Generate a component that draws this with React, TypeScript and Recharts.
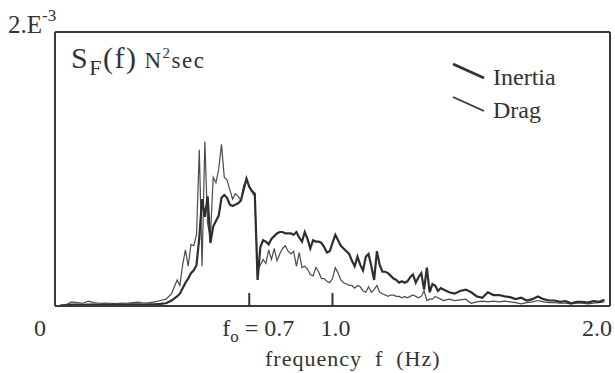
import { LineChart, Line, XAxis, YAxis, Legend } from "recharts"

// spectral density S_F(f), values in units of 1e-3 N^2 sec
const freq = [
  0.02, 0.04, 0.06, 0.08, 0.1, 0.12, 0.14, 0.16, 0.18, 0.2, 0.22, 0.24, 0.26, 0.28, 0.3, 0.32, 0.34, 0.36, 0.38, 0.4, 0.42,
  0.44, 0.45, 0.46, 0.47, 0.48, 0.49, 0.5, 0.51, 0.52, 0.53, 0.54, 0.55, 0.56, 0.57, 0.58, 0.59, 0.6, 0.61, 0.62, 0.63,
  0.64, 0.65, 0.66, 0.67, 0.68, 0.69, 0.7, 0.71, 0.72, 0.73, 0.74, 0.75, 0.76, 0.77, 0.78, 0.79, 0.8,
  0.81, 0.82, 0.83, 0.84, 0.85, 0.86, 0.87, 0.88, 0.89, 0.9, 0.91, 0.92, 0.93, 0.94, 0.95, 0.96, 0.97, 0.98, 0.99, 1.0,
  1.01, 1.02, 1.03, 1.04, 1.05, 1.06, 1.07, 1.08, 1.09, 1.1, 1.11, 1.12, 1.13, 1.14, 1.15, 1.16, 1.17, 1.18, 1.19, 1.2,
  1.21, 1.22, 1.23, 1.24, 1.25, 1.26, 1.27, 1.28, 1.29, 1.3, 1.31, 1.32, 1.33, 1.34, 1.35, 1.36, 1.37, 1.38, 1.39, 1.4,
  1.42, 1.44, 1.46, 1.48, 1.5, 1.52, 1.54, 1.56, 1.58, 1.6, 1.62, 1.64, 1.66, 1.68, 1.7, 1.72, 1.74, 1.76, 1.78, 1.8,
  1.82, 1.84, 1.86, 1.88, 1.9, 1.92, 1.94, 1.96, 1.98,
]

const inertia = [
  0.005, 0.005, 0.01, 0.01, 0.008, 0.01, 0.01, 0.008, 0.01, 0.01, 0.008, 0.01, 0.01, 0.012, 0.012, 0.01, 0.012, 0.012, 0.015, 0.02, 0.04,
  0.07, 0.09, 0.13, 0.17, 0.2, 0.24, 0.26, 0.3, 0.5, 0.78, 0.65, 0.8, 0.46, 0.58, 0.62, 0.66, 0.79, 0.81, 0.79, 0.74,
  0.73, 0.74, 0.75, 0.77, 0.85, 0.93, 0.87, 0.84, 0.82, 0.19, 0.43, 0.48, 0.47, 0.45, 0.49, 0.51, 0.53,
  0.54, 0.54, 0.53, 0.53, 0.53, 0.52, 0.54, 0.5, 0.47, 0.54, 0.49, 0.42, 0.48, 0.47, 0.47, 0.46, 0.43, 0.39, 0.4, 0.46,
  0.52, 0.48, 0.44, 0.42, 0.4, 0.38, 0.33, 0.29, 0.36, 0.3, 0.26, 0.36, 0.38, 0.29, 0.19, 0.4, 0.3, 0.25, 0.25, 0.24,
  0.22, 0.2, 0.19, 0.17, 0.18, 0.17, 0.18, 0.21, 0.23, 0.17, 0.21, 0.24, 0.12, 0.28, 0.1, 0.16, 0.15, 0.11, 0.13, 0.12,
  0.1, 0.09, 0.11, 0.12, 0.1, 0.07, 0.06, 0.1, 0.08, 0.08, 0.07, 0.065, 0.05, 0.06, 0.04, 0.05, 0.07, 0.05, 0.04, 0.04,
  0.03, 0.035, 0.02, 0.03, 0.03, 0.025, 0.035, 0.03, 0.045,
]

const drag = [
  0.005, 0.01, 0.03, 0.025, 0.02, 0.035, 0.025, 0.02, 0.022, 0.02, 0.018, 0.022, 0.02, 0.025, 0.028, 0.022, 0.025, 0.03, 0.04, 0.05, 0.09,
  0.19, 0.15, 0.3, 0.41, 0.29, 0.45, 0.44, 0.52, 1.14, 0.29, 1.2, 0.6, 0.5, 0.94, 0.9, 1.0, 1.18, 0.94, 0.92, 0.85,
  0.78, 0.82, 0.8, 0.77, 0.88, 0.92, 0.87, 0.83, 0.8, 0.26, 0.3, 0.34, 0.31, 0.41, 0.34, 0.42, 0.33,
  0.38, 0.42, 0.44, 0.4, 0.38, 0.4, 0.29, 0.39, 0.28, 0.29, 0.27, 0.23, 0.22, 0.28, 0.25, 0.2, 0.2, 0.18, 0.17, 0.2,
  0.28, 0.24, 0.19, 0.17, 0.16, 0.15, 0.15, 0.13, 0.15, 0.14, 0.11, 0.1, 0.14, 0.1, 0.12, 0.15, 0.1, 0.09, 0.08, 0.07,
  0.08, 0.08, 0.07, 0.07, 0.06, 0.07, 0.06, 0.07, 0.08, 0.07, 0.06, 0.07, 0.11, 0.04, 0.05, 0.05, 0.07, 0.06, 0.05, 0.04,
  0.05, 0.04, 0.045, 0.05, 0.02, 0.03, 0.035, 0.03, 0.035, 0.03, 0.035, 0.03, 0.025, 0.015, 0.025, 0.03, 0.04, 0.03, 0.025, 0.025,
  0.02, 0.02, 0.015, 0.02, 0.02, 0.015, 0.02, 0.025, 0.03,
]

const xTicks = [0, 0.7, 1.0, 2.0]
const keyOrder = ["Inertia", "Drag"]

const data = freq.map((f, i) => ({ f, inertia: inertia[i], drag: drag[i] }))

const INK = "#333"
const SERIF = '"Liberation Serif", "DejaVu Serif", serif'

function FreqTick({ x, y, payload }: any) {
  const v = payload.value
  const txt = { fill: INK, fontSize: 24, fontFamily: SERIF }
  if (v === 0) {
    return <text x={x - 15} y={y + 30} textAnchor="middle" {...txt}>0</text>
  }
  if (v === 2) {
    return <text x={x - 13} y={y + 30} textAnchor="middle" {...txt}>2.0</text>
  }
  const mark = <line x1={x} x2={x} y1={y} y2={y - 13} stroke={INK} strokeWidth={2} />
  if (v === 0.7) {
    return (
      <g>
        {mark}
        <text x={x - 27} y={y + 30} {...txt}>
          f<tspan fontSize={17} dy={6}>o</tspan>
          <tspan dy={-6}> = 0.7</tspan>
        </text>
      </g>
    )
  }
  return (
    <g>
      {mark}
      <text x={x + 3} y={y + 30} textAnchor="middle" {...txt}>1.0</text>
    </g>
  )
}

function SeriesKey({ payload }: any) {
  const items = [...(payload || [])].sort(
    (a: any, b: any) => keyOrder.indexOf(a.value) - keyOrder.indexOf(b.value)
  )
  return (
    <svg width={120} height={64}>
      {items.map((p: any, i: number) => (
        <g key={p.value} transform={`translate(0, ${i * 33})`}>
          <line x1={3} y1={4} x2={34} y2={18} stroke={INK} strokeWidth={p.value === "Inertia" ? 3 : 1.8} />
          <text x={43} y={25} fill={INK} fontSize={24} fontFamily={SERIF}>
            {p.value}
          </text>
        </g>
      ))}
    </svg>
  )
}

export default function App() {
  const frame = { stroke: "#3a3a3a", strokeWidth: 2 }
  return (
    <div style={{ position: "absolute", left: 0, top: 0, width: 615, height: 373, background: "#fff" }}>
      <LineChart width={615} height={373} data={data} margin={{ top: 31, right: 4, bottom: 66, left: 54 }}>
        <XAxis
          dataKey="f"
          type="number"
          domain={[0, 2]}
          ticks={xTicks}
          tick={<FreqTick />}
          tickLine={false}
          tickSize={0}
          tickMargin={0}
          height={1}
          axisLine={frame}
        />
        <XAxis xAxisId="top" orientation="top" type="number" domain={[0, 2]} tick={false} tickLine={false} height={1} axisLine={frame} />
        <YAxis type="number" domain={[0, 2]} tick={false} tickLine={false} width={1} axisLine={frame} />
        <YAxis yAxisId="right" orientation="right" type="number" domain={[0, 2]} tick={false} tickLine={false} width={1} axisLine={frame} />
        <Legend
          layout="vertical"
          align="center"
          verticalAlign="middle"
          content={<SeriesKey />}
          wrapperStyle={{ left: 450, top: 60, width: 120, height: 64 }}
        />
        <Line
          type="linear"
          dataKey="drag"
          name="Drag"
          stroke="#4a4a4a"
          strokeWidth={1.2}
          dot={false}
          isAnimationActive={false}
        />
        <Line
          type="linear"
          dataKey="inertia"
          name="Inertia"
          stroke="#2e2e2e"
          strokeWidth={2.2}
          dot={false}
          isAnimationActive={false}
        />
      </LineChart>
      <svg width={615} height={373} style={{ position: "absolute", left: 0, top: 0, pointerEvents: "none" }}>
        <text x={8} y={33} fill={INK} fontSize={25} fontFamily={SERIF}>
          2.E<tspan fontSize={17} dy={-12}>-3</tspan>
        </text>
        <text x={71} y={68} fill={INK} fontSize={30} fontFamily={SERIF} letterSpacing={1.5}>
          S<tspan fontSize={22} dy={7}>F</tspan>
          <tspan dy={-7}>(f)</tspan>
          <tspan fontSize={23} dx={7}>N</tspan>
          <tspan fontSize={15} dy={-10}>2</tspan>
          <tspan fontSize={23} dy={10}>sec</tspan>
        </text>
        <text x={265} y={366} fill={INK} fontSize={22} fontFamily={SERIF} letterSpacing={1} style={{ whiteSpace: "pre" }}>
          frequency  f  (Hz)
        </text>
      </svg>
    </div>
  )
}
